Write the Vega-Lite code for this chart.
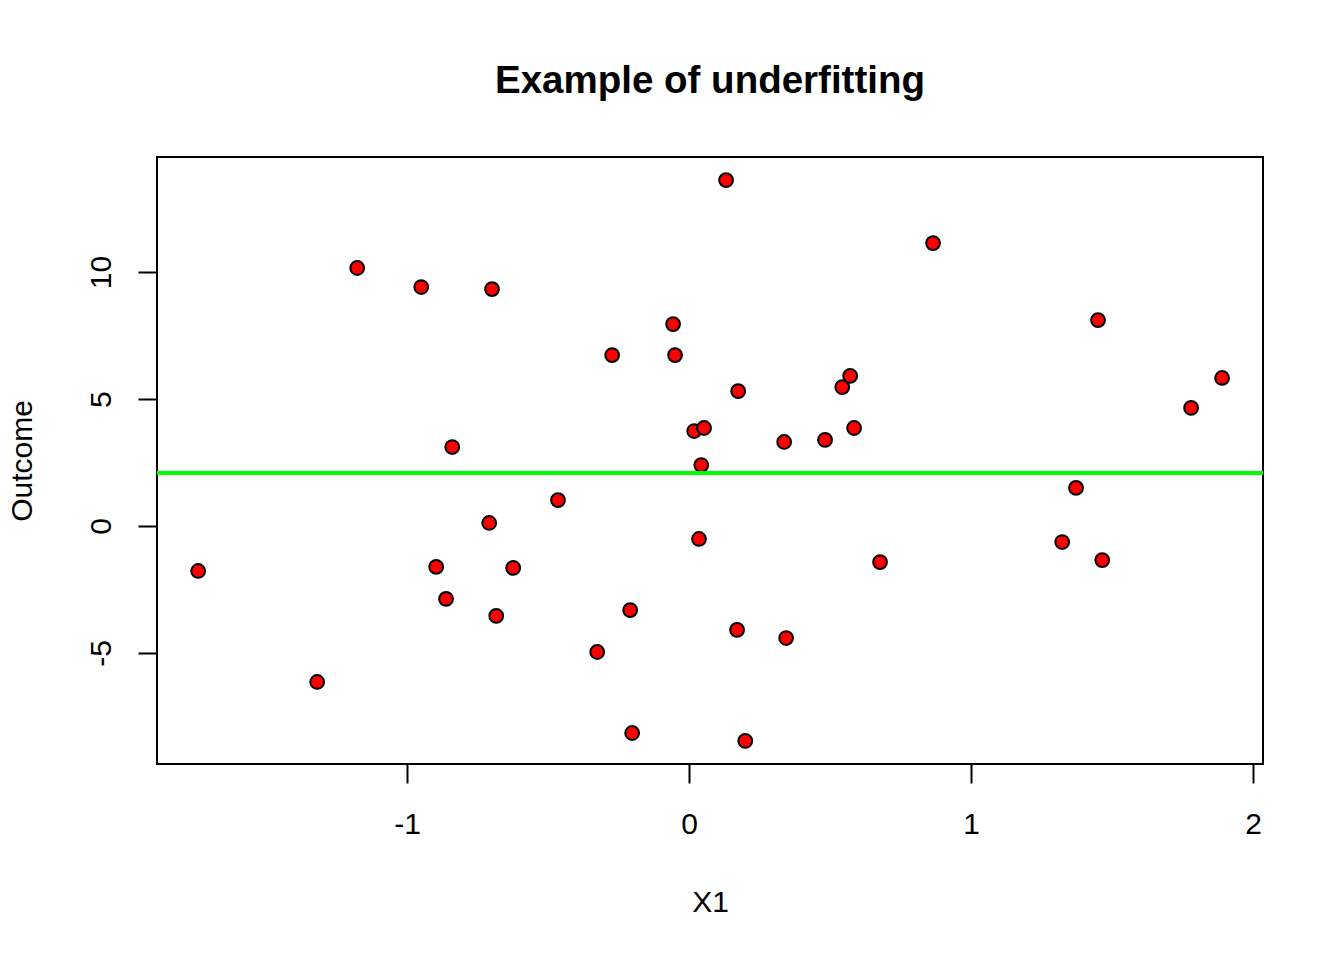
{
  "$schema": "https://vega.github.io/schema/vega-lite/v6.json",
  "width": 1106,
  "height": 607,
  "autosize": "none",
  "padding": {"left": 157, "top": 157, "right": 81, "bottom": 196},
  "background": "white",
  "config": {
    "font": "Liberation Sans",
    "view": {"stroke": "black", "strokeWidth": 2},
    "axis": {"grid": false, "domain": false, "tickColor": "black", "tickWidth": 2, "tickSize": 19, "labelFont": "Liberation Sans", "labelFontSize": 30, "labelColor": "black", "titleFont": "Liberation Sans", "titleFontSize": 30, "titleFontWeight": "normal", "titleColor": "black", "labelExpr": "replace(datum.label, '\u2212', '-')"}
  },
  "title": {"text": "Example of underfitting", "fontSize": 38.5, "fontWeight": "bold", "font": "Liberation Sans", "anchor": "middle", "offset": 56, "color": "black"},
  "layer": [
    {
      "data": {"values": [
        {"X1": -1.741, "Outcome": -1.77},
        {"X1": -1.319, "Outcome": -6.14},
        {"X1": -1.177, "Outcome": 10.16},
        {"X1": -0.950, "Outcome": 9.41},
        {"X1": -0.699, "Outcome": 9.33},
        {"X1": -0.840, "Outcome": 3.11},
        {"X1": -0.897, "Outcome": -1.61},
        {"X1": -0.862, "Outcome": -2.87},
        {"X1": -0.709, "Outcome": 0.12},
        {"X1": -0.684, "Outcome": -3.54},
        {"X1": -0.624, "Outcome": -1.65},
        {"X1": -0.465, "Outcome": 1.02},
        {"X1": -0.326, "Outcome": -4.96},
        {"X1": -0.273, "Outcome": 6.73},
        {"X1": -0.209, "Outcome": -3.31},
        {"X1": -0.202, "Outcome": -8.15},
        {"X1": -0.057, "Outcome": 7.95},
        {"X1": -0.050, "Outcome": 6.73},
        {"X1": 0.018, "Outcome": 3.74},
        {"X1": 0.053, "Outcome": 3.86},
        {"X1": 0.043, "Outcome": 2.40},
        {"X1": 0.035, "Outcome": -0.51},
        {"X1": 0.131, "Outcome": 13.62},
        {"X1": 0.174, "Outcome": 5.31},
        {"X1": 0.170, "Outcome": -4.09},
        {"X1": 0.199, "Outcome": -8.46},
        {"X1": 0.337, "Outcome": 3.31},
        {"X1": 0.344, "Outcome": -4.41},
        {"X1": 0.482, "Outcome": 3.39},
        {"X1": 0.543, "Outcome": 5.47},
        {"X1": 0.571, "Outcome": 5.91},
        {"X1": 0.585, "Outcome": 3.86},
        {"X1": 0.677, "Outcome": -1.42},
        {"X1": 0.865, "Outcome": 11.14},
        {"X1": 1.323, "Outcome": -0.63},
        {"X1": 1.372, "Outcome": 1.50},
        {"X1": 1.450, "Outcome": 8.11},
        {"X1": 1.465, "Outcome": -1.34},
        {"X1": 1.780, "Outcome": 4.65},
        {"X1": 1.890, "Outcome": 5.83}
      ]},
      "mark": {"type": "point", "shape": "circle", "filled": true, "fill": "#FF0000", "stroke": "black", "strokeWidth": 2, "opacity": 1, "size": 190},
      "encoding": {
        "x": {"field": "X1", "type": "quantitative", "title": "X1",
              "scale": {"domain": [-1.887, 2.035], "nice": false, "zero": false},
              "axis": {"values": [-1, 0, 1, 2], "labelPadding": 26, "titlePadding": 48}},
        "y": {"field": "Outcome", "type": "quantitative", "title": "Outcome",
              "scale": {"domain": [-9.37, 14.53], "nice": false, "zero": false},
              "axis": {"values": [-5, 0, 5, 10], "labelAngle": -90, "labelAlign": "center", "labelBaseline": "bottom", "labelPadding": 22, "titlePadding": 49}}
      }
    },
    {
      "data": {"values": [{"fit": 2.09}]},
      "mark": {"type": "rule", "color": "#00FF00", "strokeWidth": 4},
      "encoding": {"y": {"field": "fit", "type": "quantitative"}}
    }
  ]
}
